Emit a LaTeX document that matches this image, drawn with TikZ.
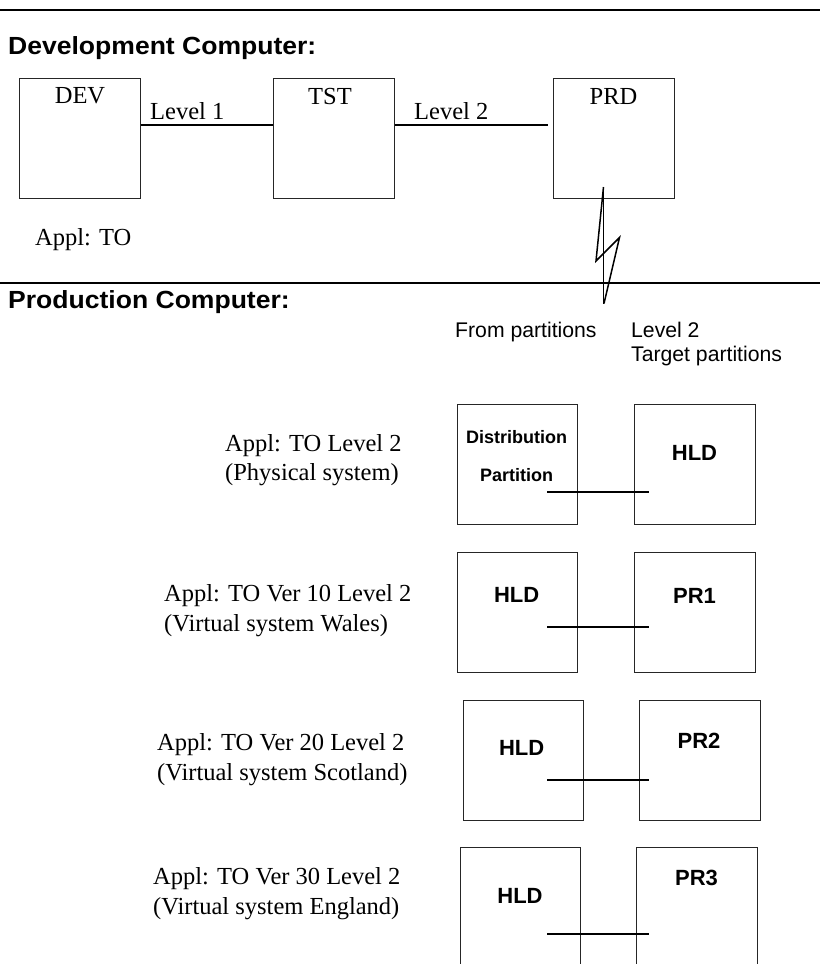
\documentclass[tikz,border=0pt]{standalone}
\usepackage{fontspec}
\setmainfont{Liberation Serif}
\newfontfamily\hsans{Liberation Sans}
\newfontfamily\headsans[FakeStretch=1.07]{Liberation Sans}
\begin{document}
\begin{tikzpicture}[x=1pt,y=-1pt,
  boxn/.style={draw=black!85,line width=1.2pt,rectangle,inner sep=0pt,minimum width=#1,minimum height=120pt},
  boxn/.default=121pt,
  serif/.style={inner sep=0pt,anchor=base west,font=\fontsize{24.5}{29}\selectfont},
  serifc/.style={inner sep=0pt,anchor=base,font=\fontsize{24.5}{29}\selectfont},
  heading/.style={inner sep=0pt,anchor=base west,font=\headsans\bfseries\fontsize{24.8}{28}\selectfont},
  small/.style={inner sep=0pt,anchor=base west,font=\hsans\fontsize{21.2}{24}\selectfont},
  boldlab/.style={inner sep=0pt,anchor=base,font=\hsans\bfseries\fontsize{22}{26}\selectfont},
  distlab/.style={inner sep=0pt,anchor=base,font=\hsans\bfseries\fontsize{18}{22}\selectfont},
  sepline/.style={line width=1.8pt},
  levelline/.style={line width=2.4pt},
  link/.style={line width=1.5pt}]
\useasboundingbox (0,0) rectangle (820,964);
\clip (0,0) rectangle (820,964);

% separators
\coordinate (t1) at (0,10); \coordinate (t2) at (820,10);
\coordinate (m1) at (0,283); \coordinate (m2) at (820,283);
\draw[sepline] (t1) -- (t2);
\draw[sepline] (m1) -- (m2);

% headings
\node[heading] (hdev) at (8,54) {Development Computer:};
\node[heading] (hprod) at (8,308) {Production Computer:};

% development boxes
\node[boxn,anchor=north west] (dev) at (19,78) {};
\node[boxn,anchor=north west] (tst) at (273,78) {};
\node[boxn,anchor=north west] (prd) at (553,78) {};
\node[serifc] (devt) at (80,103.5) {DEV};
\node[serifc] (tstt) at (330,104) {TST};
\node[serifc] (prdt) at (613.5,104) {PRD};

\coordinate (l2end) at (548,125);
\draw[levelline] (dev.east |- 0,125) -- (tst.west |- 0,125);
\draw[levelline] (tst.east |- 0,125) -- (l2end);
\node[serif] (lv1) at (150,119.5) {Level 1};
\node[serif] (lv2) at (414,119.5) {Level 2};

\node[serif] (appl0) at (35,245) {Appl: TO};

% lightning link
\coordinate (z1) at (603.5,187);
\coordinate (z2) at (596,261);
\coordinate (z3) at (619.5,237.5);
\coordinate (z4) at (604,303.5);
\coordinate (zb) at (603.5,303.5);
\draw[link,line join=miter] (z1) -- (zb);
\draw[link,line join=miter] (z1) -- (z2) -- (z3) -- (z4);

% production column headers
\node[small] (fromp) at (455,337.5) {From partitions};
\node[small] (lvl2) at (631,337.5) {Level 2};
\node[small] (targ) at (631,361) {Target partitions};

% application texts
\node[serif] (a1a) at (225,451.7) {Appl: TO Level 2};
\node[serif] (a1b) at (225,480.5) {(Physical system)};
\node[serif] (a2a) at (164,601.5) {Appl: TO Ver 10 Level 2};
\node[serif] (a2b) at (164,631) {(Virtual system Wales)};
\node[serif] (a3a) at (157,750.5) {Appl: TO Ver 20 Level 2};
\node[serif] (a3b) at (157,780) {(Virtual system Scotland)};
\node[serif] (a4a) at (153,884.5) {Appl: TO Ver 30 Level 2};
\node[serif] (a4b) at (153,914) {(Virtual system England)};

% row 1
\node[boxn=120pt,anchor=north west] (r1l) at (457,404) {};
\node[boxn,anchor=north west] (r1r) at (634,404) {};
\node[distlab] (dist) at (516.7,443.3) {Distribution};
\node[distlab] (part) at (516.7,481.7) {Partition};
\node[boldlab] (r1rt) at (694.5,460) {HLD};
\coordinate (c1a) at (547,492); \coordinate (c1b) at (649,492);
\draw[link] (c1a) -- (c1b);

% row 2
\node[boxn=120pt,anchor=north west] (r2l) at (457,552) {};
\node[boxn,anchor=north west] (r2r) at (634,552) {};
\node[boldlab] (r2lt) at (516.7,602.7) {HLD};
\node[boldlab] (r2rt) at (694.5,603) {PR1};
\coordinate (c2a) at (547,627); \coordinate (c2b) at (649,627);
\draw[link] (c2a) -- (c2b);

% row 3
\node[boxn=120pt,anchor=north west] (r3l) at (463,700) {};
\node[boxn,anchor=north west] (r3r) at (639,700) {};
\node[boldlab] (r3lt) at (521.7,755) {HLD};
\node[boldlab] (r3rt) at (699,748) {PR2};
\coordinate (c3a) at (547,780); \coordinate (c3b) at (649,780);
\draw[link] (c3a) -- (c3b);

% row 4 (cut at the bottom)
\node[boxn=120pt,anchor=north west] (r4l) at (460,847) {};
\node[boxn,anchor=north west] (r4r) at (636,847) {};
\node[boldlab] (r4lt) at (520,903.3) {HLD};
\node[boldlab] (r4rt) at (696.5,885) {PR3};
\coordinate (c4a) at (547,934); \coordinate (c4b) at (649,934);
\draw[link] (c4a) -- (c4b);
\end{tikzpicture}
\end{document}
